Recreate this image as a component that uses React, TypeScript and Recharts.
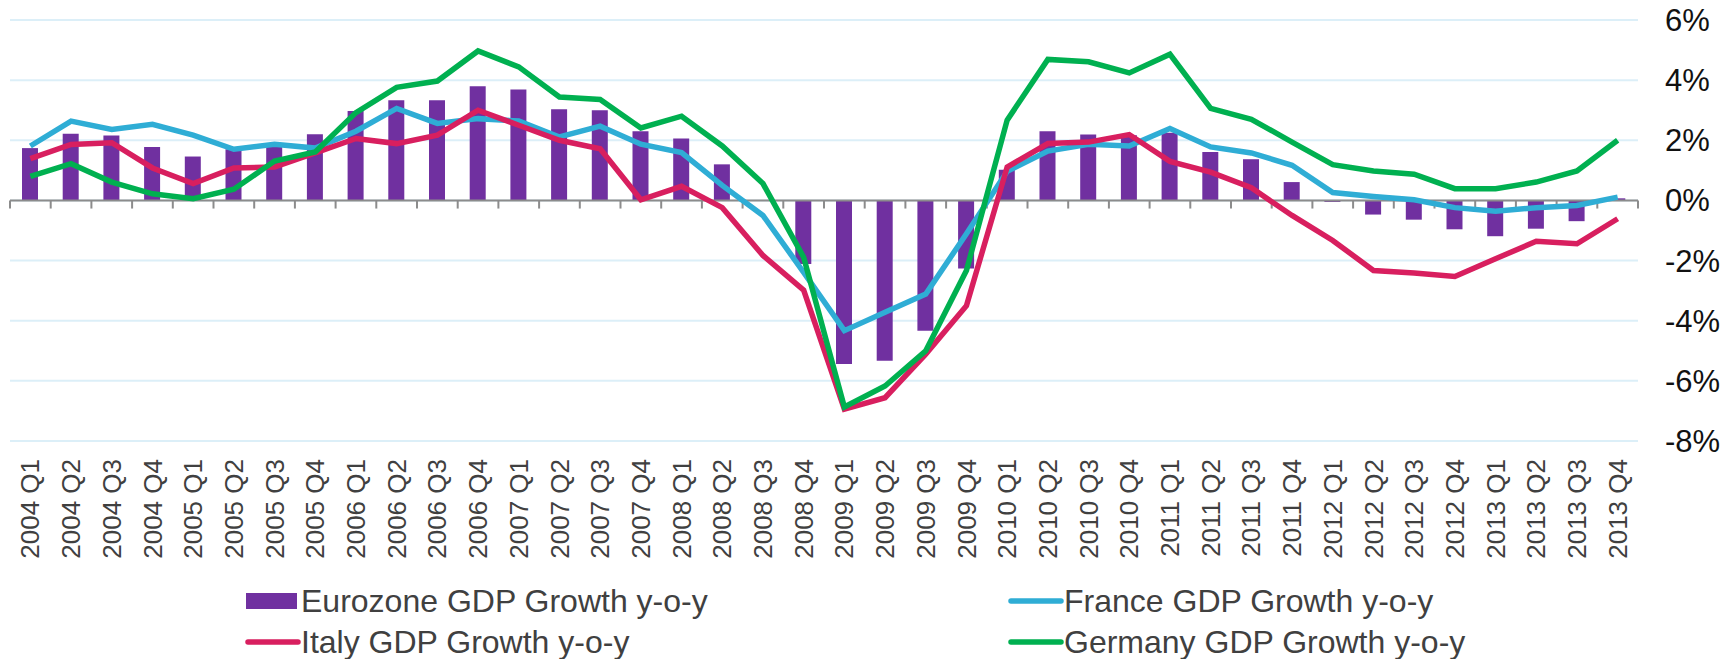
import React from 'react';
import { ComposedChart, Bar, Line, XAxis, YAxis, CartesianGrid, ReferenceLine, Legend } from 'recharts';

const quarters = [
  '2004 Q1', '2004 Q2', '2004 Q3', '2004 Q4',
  '2005 Q1', '2005 Q2', '2005 Q3', '2005 Q4',
  '2006 Q1', '2006 Q2', '2006 Q3', '2006 Q4',
  '2007 Q1', '2007 Q2', '2007 Q3', '2007 Q4',
  '2008 Q1', '2008 Q2', '2008 Q3', '2008 Q4',
  '2009 Q1', '2009 Q2', '2009 Q3', '2009 Q4',
  '2010 Q1', '2010 Q2', '2010 Q3', '2010 Q4',
  '2011 Q1', '2011 Q2', '2011 Q3', '2011 Q4',
  '2012 Q1', '2012 Q2', '2012 Q3', '2012 Q4',
  '2013 Q1', '2013 Q2', '2013 Q3', '2013 Q4',
];

const eurozone = [
  1.74, 2.22, 2.16, 1.78,
  1.46, 1.70, 1.78, 2.20,
  2.97, 3.33, 3.33, 3.80,
  3.69, 3.03, 3.00, 2.30,
  2.06, 1.20, 0.00, -2.11,
  -5.44, -5.33, -4.33, -2.26,
  1.02, 2.30, 2.19, 2.17,
  2.25, 1.61, 1.37, 0.61,
  -0.05, -0.47, -0.64, -0.96,
  -1.19, -0.94, -0.69, 0.07,
];

const france = [
  1.81, 2.64, 2.36, 2.53,
  2.17, 1.70, 1.87, 1.74,
  2.30, 3.06, 2.56, 2.72,
  2.64, 2.11, 2.47, 1.87,
  1.59, 0.50, -0.50, -2.39,
  -4.33, -3.72, -3.11, -1.11,
  0.97, 1.64, 1.87, 1.81,
  2.39, 1.78, 1.58, 1.17,
  0.26, 0.13, 0.02, -0.24,
  -0.36, -0.24, -0.17, 0.11,
];

const italy = [
  1.39, 1.86, 1.92, 1.08,
  0.56, 1.08, 1.11, 1.58,
  2.06, 1.89, 2.17, 3.00,
  2.50, 2.00, 1.72, 0.02,
  0.47, -0.24, -1.83, -2.98,
  -6.94, -6.56, -5.11, -3.50,
  1.11, 1.89, 1.94, 2.19,
  1.30, 0.94, 0.42, -0.50,
  -1.33, -2.33, -2.41, -2.53,
  -1.94, -1.36, -1.44, -0.61,
];

const germany = [
  0.80, 1.22, 0.61, 0.22,
  0.06, 0.37, 1.31, 1.61,
  2.92, 3.76, 3.97, 4.97,
  4.44, 3.44, 3.36, 2.41,
  2.80, 1.81, 0.56, -1.89,
  -6.87, -6.17, -5.00, -2.33,
  2.67, 4.69, 4.61, 4.24,
  4.86, 3.06, 2.70, 1.94,
  1.19, 0.98, 0.87, 0.39,
  0.39, 0.61, 0.98, 2.00,
];

const yTicks = [-8, -6, -4, -2, 0, 2, 4, 6];

const seriesNames = {
  eurozone: 'Eurozone GDP Growth y-o-y',
  france: 'France GDP Growth y-o-y',
  italy: 'Italy GDP Growth y-o-y',
  germany: 'Germany GDP Growth y-o-y',
};

const COLORS = {
  eurozone: '#7030A0',
  france: '#2FADD5',
  italy: '#D81F5F',
  germany: '#00B050',
};

const FONT = '"Liberation Sans", Arial, Helvetica, sans-serif';
const AXIS_GRAY = '#8C8C8C';

const data = quarters.map((q, i) => ({
  q,
  eurozone: eurozone[i],
  france: france[i],
  italy: italy[i],
  germany: germany[i],
}));

const XTick = (props: any) => {
  const { x, y, payload } = props;
  return (
    <text
      x={x}
      y={y}
      transform={`rotate(-90, ${x}, ${y})`}
      textAnchor="end"
      dy="0.35em"
      fontSize={26}
      fill="#404040"
      fontFamily={FONT}
    >
      {payload.value}
    </text>
  );
};

const legendOrder: Array<{ key: keyof typeof COLORS; type: 'bar' | 'line'; col: number; row: number }> = [
  { key: 'eurozone', type: 'bar', col: 0, row: 0 },
  { key: 'france', type: 'line', col: 1, row: 0 },
  { key: 'italy', type: 'line', col: 0, row: 1 },
  { key: 'germany', type: 'line', col: 1, row: 1 },
];
const colLefts = [245, 1008];
const rowCenters = [601, 642];

const renderLegend = () => (
  <div style={{ position: 'relative', width: 1736, height: 659 }}>
    {legendOrder.map((it) => {
      const left = colLefts[it.col];
      const cy = rowCenters[it.row];
      return (
        <div key={it.key}>
          {it.type === 'bar' ? (
            <div
              style={{
                position: 'absolute',
                left: left + 1,
                top: cy - 8,
                width: 51,
                height: 16,
                background: COLORS[it.key],
              }}
            />
          ) : (
            <svg
              style={{ position: 'absolute', left, top: cy - 4 }}
              width={56}
              height={8}
            >
              <line x1={3} y1={4} x2={53} y2={4} stroke={COLORS[it.key]} strokeWidth={5.5} strokeLinecap="round" />
            </svg>
          )}
          <div
            style={{
              position: 'absolute',
              left: left + 56,
              top: cy - 16,
              height: 32,
              lineHeight: '32px',
              fontSize: 32,
              fontFamily: FONT,
              color: '#404040',
              whiteSpace: 'nowrap',
            }}
          >
            {seriesNames[it.key]}
          </div>
        </div>
      );
    })}
  </div>
);

export default function App() {
  return (
    <div style={{ position: 'absolute', left: 0, top: 0, width: 1736, height: 659, background: '#fff' }}>
      <ComposedChart
        width={1736}
        height={659}
        data={data}
        margin={{ top: 20, right: 0, left: 10, bottom: 88 }}
        barCategoryGap={0}
        style={{ fontFamily: FONT }}
      >
        <CartesianGrid vertical={false} stroke="#DCEFF8" strokeWidth={2} />
        <XAxis
          dataKey="q"
          height={130}
          interval={0}
          axisLine={false}
          tickLine={false}
          tickSize={0}
          tickMargin={18}
          tick={<XTick />}
        />
        <YAxis
          orientation="right"
          domain={[-8, 6]}
          ticks={yTicks}
          allowDataOverflow
          width={98}
          axisLine={false}
          tickLine={false}
          tickSize={0}
          tickMargin={27}
          tickFormatter={(v: number) => `${v}%`}
          tick={{ fontSize: 31, fill: '#111111', fontFamily: FONT }}
        />
        <YAxis
          yAxisId="l"
          orientation="left"
          domain={[-8, 6]}
          ticks={yTicks}
          width={0}
          tick={false}
          tickLine={false}
          axisLine={{ stroke: AXIS_GRAY, strokeWidth: 2 }}
        />
        <Bar dataKey="eurozone" name={seriesNames.eurozone} fill={COLORS.eurozone} barSize={16} isAnimationActive={false} />
        <ReferenceLine y={0} stroke={AXIS_GRAY} strokeWidth={2} ifOverflow="visible" />
        {quarters.map((q) => (
          <ReferenceLine
            key={`t-${q}`}
            segment={[{ x: q, y: 0 }, { x: q, y: -0.27 }]}
            position="start"
            stroke={AXIS_GRAY}
            strokeWidth={2}
            ifOverflow="visible"
          />
        ))}
        <ReferenceLine
          segment={[{ x: quarters[quarters.length - 1], y: 0 }, { x: quarters[quarters.length - 1], y: -0.27 }]}
          position="end"
          stroke={AXIS_GRAY}
          strokeWidth={2}
          ifOverflow="visible"
        />
        <Line type="linear" dataKey="france" name={seriesNames.france} stroke={COLORS.france} strokeWidth={5.5} dot={false} activeDot={false} isAnimationActive={false} />
        <Line type="linear" dataKey="italy" name={seriesNames.italy} stroke={COLORS.italy} strokeWidth={5.5} dot={false} activeDot={false} isAnimationActive={false} />
        <Line type="linear" dataKey="germany" name={seriesNames.germany} stroke={COLORS.germany} strokeWidth={5.5} dot={false} activeDot={false} isAnimationActive={false} />
        <Legend
          layout="horizontal"
          verticalAlign="middle"
          align="center"
          content={renderLegend}
          wrapperStyle={{ top: 0, left: 0, width: 1736, height: 659, pointerEvents: 'none' }}
        />
      </ComposedChart>
    </div>
  );
}
